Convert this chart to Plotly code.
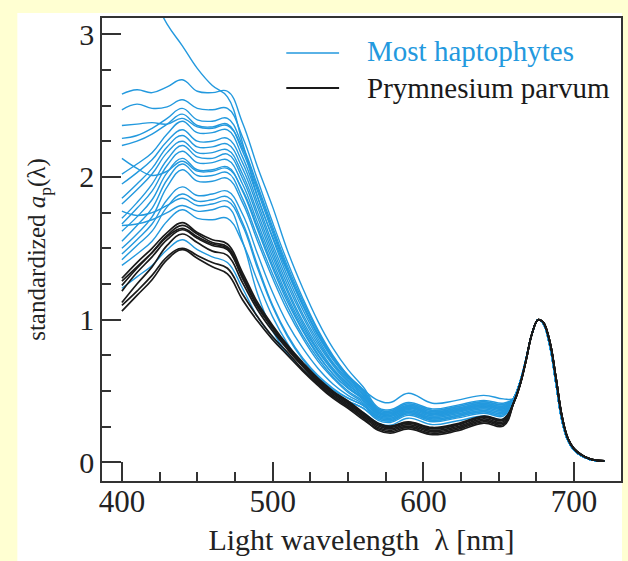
import plotly.graph_objects as go

# Wavelength grid (nm) for the individual spectra up to the red peak
HEAD_WL = [400, 410, 420, 430, 440, 450, 460, 470, 480, 490, 500, 510, 520,
           530, 540, 550, 560, 570, 578, 590, 606, 622, 640, 653]

# Common chlorophyll-a red peak (all curves overlap there)
PEAK_WL = [660, 664, 668, 672, 676, 678, 680, 684, 688, 692, 696, 700, 705, 710, 715, 720]
HAPTO_PEAK = [0.45, 0.56, 0.72, 0.90, 1.00, 0.99, 0.965, 0.81, 0.55, 0.29, 0.15, 0.085, 0.045, 0.022, 0.012, 0.008]
PARVUM_PEAK = [0.42, 0.54, 0.71, 0.90, 1.00, 0.995, 0.975, 0.84, 0.59, 0.32, 0.165, 0.095, 0.052, 0.027, 0.015, 0.011]

# Standardized a_p(lambda) spectra, most haptophytes
HAPTOPHYTES = [
    [3.75, 3.50, 3.28, 3.07, 2.92, 2.76, 2.64, 2.56, 2.24, 1.86, 1.58, 1.33, 1.10, 0.90, 0.74, 0.61, 0.51, 0.435, 0.42, 0.485, 0.415, 0.435, 0.47, 0.445],
    [2.58, 2.61, 2.59, 2.63, 2.68, 2.60, 2.59, 2.60, 2.38, 2.07, 1.79, 1.48, 1.22, 0.99, 0.80, 0.65, 0.53, 0.385, 0.37, 0.42, 0.375, 0.40, 0.435, 0.415],
    [2.47, 2.51, 2.48, 2.49, 2.54, 2.48, 2.47, 2.48, 2.28, 1.98, 1.68, 1.40, 1.15, 0.93, 0.75, 0.61, 0.51, 0.375, 0.36, 0.41, 0.365, 0.39, 0.425, 0.405],
    [2.27, 2.29, 2.34, 2.41, 2.48, 2.40, 2.39, 2.41, 2.22, 1.94, 1.65, 1.37, 1.13, 0.92, 0.74, 0.60, 0.50, 0.365, 0.35, 0.40, 0.355, 0.38, 0.415, 0.395],
    [2.22, 2.25, 2.30, 2.37, 2.44, 2.36, 2.35, 2.37, 2.18, 1.90, 1.61, 1.34, 1.10, 0.89, 0.72, 0.59, 0.49, 0.355, 0.34, 0.39, 0.345, 0.37, 0.405, 0.385],
    [2.36, 2.37, 2.38, 2.37, 2.41, 2.35, 2.34, 2.36, 2.20, 1.92, 1.63, 1.35, 1.11, 0.90, 0.73, 0.60, 0.50, 0.375, 0.36, 0.41, 0.365, 0.39, 0.425, 0.405],
    [2.13, 2.06, 2.01, 2.04, 2.11, 2.04, 2.04, 2.06, 1.91, 1.65, 1.38, 1.14, 0.93, 0.76, 0.62, 0.52, 0.45, 0.345, 0.33, 0.38, 0.335, 0.36, 0.395, 0.375],
    [2.02, 2.09, 2.17, 2.30, 2.39, 2.31, 2.31, 2.33, 2.14, 1.86, 1.57, 1.30, 1.07, 0.87, 0.70, 0.58, 0.48, 0.365, 0.35, 0.40, 0.355, 0.38, 0.415, 0.395],
    [1.95, 2.03, 2.12, 2.25, 2.33, 2.25, 2.25, 2.27, 2.10, 1.82, 1.53, 1.27, 1.04, 0.85, 0.69, 0.57, 0.48, 0.355, 0.34, 0.39, 0.345, 0.37, 0.405, 0.385],
    [1.85, 1.95, 2.06, 2.21, 2.29, 2.21, 2.21, 2.23, 2.06, 1.79, 1.50, 1.24, 1.02, 0.83, 0.68, 0.56, 0.47, 0.345, 0.33, 0.38, 0.335, 0.36, 0.395, 0.375],
    [1.81, 1.91, 2.02, 2.17, 2.25, 2.17, 2.17, 2.19, 2.02, 1.75, 1.47, 1.21, 0.99, 0.81, 0.66, 0.55, 0.46, 0.355, 0.34, 0.39, 0.345, 0.37, 0.405, 0.385],
    [1.71, 1.82, 1.95, 2.12, 2.22, 2.14, 2.13, 2.16, 1.99, 1.72, 1.44, 1.19, 0.97, 0.79, 0.65, 0.54, 0.46, 0.335, 0.32, 0.37, 0.325, 0.35, 0.385, 0.365],
    [1.67, 1.78, 1.90, 2.08, 2.18, 2.10, 2.10, 2.12, 1.95, 1.68, 1.41, 1.16, 0.95, 0.78, 0.64, 0.53, 0.45, 0.345, 0.33, 0.38, 0.335, 0.36, 0.395, 0.375],
    [1.62, 1.72, 1.84, 2.03, 2.13, 2.05, 2.05, 2.07, 1.90, 1.63, 1.36, 1.12, 0.92, 0.75, 0.62, 0.52, 0.44, 0.325, 0.31, 0.36, 0.315, 0.34, 0.375, 0.355],
    [1.55, 1.66, 1.78, 1.98, 2.09, 2.01, 2.01, 2.03, 1.85, 1.58, 1.32, 1.09, 0.89, 0.73, 0.60, 0.50, 0.43, 0.335, 0.32, 0.37, 0.325, 0.35, 0.385, 0.365],
    [1.50, 1.60, 1.72, 1.93, 2.05, 1.97, 1.97, 1.99, 1.82, 1.55, 1.29, 1.06, 0.87, 0.71, 0.59, 0.49, 0.42, 0.315, 0.30, 0.35, 0.305, 0.33, 0.365, 0.345],
    [1.46, 1.56, 1.67, 1.84, 1.93, 1.87, 1.88, 1.90, 1.74, 1.46, 1.19, 0.97, 0.80, 0.66, 0.55, 0.47, 0.41, 0.325, 0.31, 0.36, 0.315, 0.34, 0.375, 0.355],
    [1.42, 1.52, 1.62, 1.79, 1.88, 1.83, 1.84, 1.86, 1.68, 1.38, 1.10, 0.89, 0.73, 0.61, 0.52, 0.45, 0.40, 0.305, 0.29, 0.34, 0.295, 0.32, 0.355, 0.335],
    [1.76, 1.73, 1.75, 1.80, 1.85, 1.80, 1.81, 1.83, 1.66, 1.36, 1.09, 0.88, 0.72, 0.60, 0.51, 0.45, 0.40, 0.315, 0.30, 0.35, 0.305, 0.33, 0.365, 0.345],
    [1.66, 1.67, 1.70, 1.75, 1.80, 1.76, 1.77, 1.79, 1.55, 1.18, 0.92, 0.76, 0.65, 0.56, 0.49, 0.43, 0.38, 0.295, 0.28, 0.33, 0.285, 0.31, 0.345, 0.325],
    [1.38, 1.46, 1.55, 1.69, 1.77, 1.71, 1.70, 1.71, 1.54, 1.27, 1.02, 0.83, 0.68, 0.57, 0.49, 0.43, 0.38, 0.305, 0.29, 0.34, 0.295, 0.32, 0.355, 0.335],
    [1.22, 1.30, 1.38, 1.49, 1.56, 1.49, 1.44, 1.40, 1.22, 1.02, 0.88, 0.76, 0.65, 0.55, 0.47, 0.40, 0.35, 0.275, 0.26, 0.31, 0.265, 0.29, 0.325, 0.305],
]

# Standardized a_p(lambda) spectra, Prymnesium parvum
PARVUM = [
    [1.29, 1.40, 1.50, 1.61, 1.68, 1.61, 1.56, 1.53, 1.33, 1.12, 0.96, 0.82, 0.70, 0.59, 0.50, 0.43, 0.35, 0.275, 0.255, 0.285, 0.245, 0.27, 0.325, 0.305],
    [1.24, 1.36, 1.47, 1.59, 1.66, 1.60, 1.54, 1.51, 1.31, 1.10, 0.95, 0.81, 0.69, 0.58, 0.49, 0.42, 0.34, 0.265, 0.245, 0.275, 0.235, 0.26, 0.315, 0.295],
    [1.20, 1.33, 1.44, 1.56, 1.63, 1.57, 1.52, 1.49, 1.29, 1.09, 0.94, 0.80, 0.68, 0.57, 0.48, 0.41, 0.33, 0.255, 0.235, 0.265, 0.225, 0.25, 0.305, 0.285],
    [1.12, 1.25, 1.37, 1.52, 1.60, 1.54, 1.48, 1.45, 1.26, 1.07, 0.92, 0.79, 0.67, 0.56, 0.47, 0.40, 0.32, 0.245, 0.225, 0.255, 0.215, 0.24, 0.295, 0.275],
    [1.27, 1.37, 1.47, 1.58, 1.64, 1.58, 1.53, 1.50, 1.30, 1.10, 0.94, 0.80, 0.69, 0.58, 0.49, 0.42, 0.34, 0.27, 0.25, 0.28, 0.24, 0.265, 0.32, 0.30],
    [1.06, 1.17, 1.28, 1.42, 1.49, 1.43, 1.37, 1.32, 1.14, 0.99, 0.86, 0.75, 0.64, 0.54, 0.45, 0.38, 0.30, 0.235, 0.215, 0.245, 0.205, 0.23, 0.285, 0.265],
    [1.10, 1.20, 1.31, 1.44, 1.50, 1.45, 1.40, 1.36, 1.18, 1.02, 0.88, 0.77, 0.65, 0.55, 0.46, 0.39, 0.31, 0.225, 0.205, 0.235, 0.195, 0.22, 0.275, 0.255],
]

BLUE = "#2399DE"
BLACK = "#1a1a1a"
AXIS = "#333333"
TEXT = "#222222"
FONT = "Liberation Serif, Times New Roman, serif"

W, H = 628, 561
ML, MR, MT, MB = 102, 5, 18, 80
PW, PH = W - ML - MR, H - MT - MB


def px(x):
    return (x - ML) / PW


def py(y):
    return (H - MB - y) / PH


fig = go.Figure()

for group, peak, color, width in ((HAPTOPHYTES, HAPTO_PEAK, BLUE, 1.4),
                                  (PARVUM, PARVUM_PEAK, BLACK, 1.7)):
    for spec in group:
        fig.add_trace(go.Scatter(
            x=HEAD_WL + PEAK_WL, y=spec + peak, mode="lines",
            line=dict(color=color, width=width, shape="spline", smoothing=1.2),
            showlegend=False, hoverinfo="skip"))

shapes = [
    # white panel behind the chart
    dict(type="rect", xref="paper", yref="paper", x0=px(17), x1=px(624),
         y0=py(H + 5), y1=py(13), fillcolor="white", line_width=0, layer="below"),
    # legend line samples
    dict(type="line", xref="paper", yref="paper", x0=px(287), x1=px(340),
         y0=py(53), y1=py(53), line=dict(color=BLUE, width=1.6)),
    dict(type="line", xref="paper", yref="paper", x0=px(287), x1=px(340),
         y0=py(88), y1=py(88), line=dict(color=BLACK, width=1.8)),
]

annotations = [
    dict(text="Most haptophytes", xref="paper", yref="paper", x=px(366), y=py(51),
         xanchor="left", yanchor="middle", showarrow=False,
         font=dict(family=FONT, size=29, color=BLUE)),
    dict(text="Prymnesium parvum", xref="paper", yref="paper", x=px(366), y=py(88),
         xanchor="left", yanchor="middle", showarrow=False,
         font=dict(family=FONT, size=29, color=BLACK)),
]

fig.update_layout(
    width=W, height=H,
    margin=dict(l=ML, r=MR, t=MT, b=MB, pad=0),
    paper_bgcolor="#FFFFD2", plot_bgcolor="white",
    font=dict(family=FONT, size=28, color=TEXT),
    shapes=shapes, annotations=annotations, showlegend=False,
)

fig.update_xaxes(
    range=[386.8, 731.1], tickmode="array", tickvals=[400, 500, 600, 700],
    ticks="inside", ticklen=19, tickwidth=1.6, tickcolor=AXIS,
    minor=dict(tickvals=[425, 450, 475, 525, 550, 575, 625, 650, 675],
               ticks="inside", ticklen=9, tickwidth=1.6, tickcolor=AXIS),
    showline=True, linecolor=AXIS, linewidth=1.6, mirror=True,
    showgrid=False, zeroline=False, ticklabelstandoff=-8,
    title=dict(text="Light wavelength\u00a0 λ [nm]", standoff=11,
               font=dict(family=FONT, size=30, color=TEXT)),
    tickfont=dict(family=FONT, size=31, color=TEXT),
)

fig.update_yaxes(
    range=[-0.13, 3.113], tickmode="array", tickvals=[0, 1, 2, 3],
    ticks="inside", ticklen=19, tickwidth=1.6, tickcolor=AXIS,
    minor=dict(tickvals=[0.25, 0.5, 0.75, 1.25, 1.5, 1.75, 2.25, 2.5, 2.75],
               ticks="inside", ticklen=9, tickwidth=1.6, tickcolor=AXIS),
    showline=True, linecolor=AXIS, linewidth=1.6, mirror=True,
    showgrid=False, zeroline=False,
    title=dict(text="standardized <i>a</i><sub>p</sub>(λ)", standoff=26,
               font=dict(family=FONT, size=25, color=TEXT)),
    tickfont=dict(family=FONT, size=30, color=TEXT),
)

fig.write_html("out.html")
